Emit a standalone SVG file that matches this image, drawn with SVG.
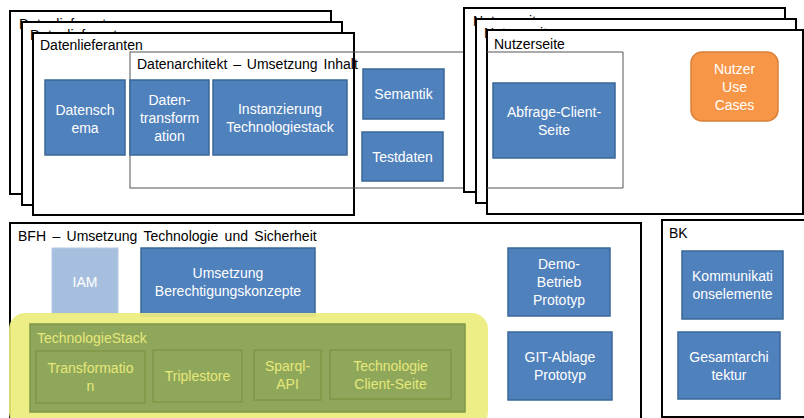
<svg xmlns="http://www.w3.org/2000/svg" width="804" height="418" viewBox="0 0 804 418">
<style>
text{font-family:"Liberation Sans",Arial,sans-serif;font-size:14px}
.frame{fill:#fff;stroke:#000;stroke-width:2}
.lbl{fill:#000}
.box{fill:#4f81bd;stroke:#3a6796;stroke-width:1.5}
.bt{fill:#fff;text-anchor:middle}
.thin{fill:none;stroke:#555;stroke-width:1}
.gbox{fill:#8fa75b;stroke:#7e9845;stroke-width:1.5}
.gt{fill:#e6e87a;text-anchor:middle}
</style>
<rect width="804" height="418" fill="#fff"/>

<g id="datenlieferanten">
<rect class="frame" x="10" y="11" width="321" height="183"/>
<text class="lbl" x="19" y="29">Datenlieferanten</text>
<rect class="frame" x="22" y="22" width="320" height="183"/>
<text class="lbl" x="30" y="40">Datenlieferanten</text>
<rect class="frame" x="33" y="33" width="321" height="182"/>
<text class="lbl" x="40" y="50">Datenlieferanten</text>
</g>

<g id="datenarchitekt">
<rect class="thin" x="130" y="52" width="493" height="136"/>
<text class="lbl" x="137" y="69" word-spacing="2">Datenarchitekt – Umsetzung Inhalt</text>
</g>

<g id="datenschema">
<rect class="box" x="45" y="80" width="80" height="75"/>
<text class="bt" x="85" y="115">Datensch</text>
<text class="bt" x="85" y="133">ema</text>
</g>
<g id="datentransformation">
<rect class="box" x="130" y="80" width="79" height="75"/>
<text class="bt" x="169.5" y="105">Daten-</text>
<text class="bt" x="169.5" y="123">transform</text>
<text class="bt" x="169.5" y="141">ation</text>
</g>
<g id="instanzierung">
<rect class="box" x="213" y="80" width="134" height="75"/>
<text class="bt" x="280" y="114">Instanzierung</text>
<text class="bt" x="280" y="132">Technologiestack</text>
</g>
<g id="semantik">
<rect class="box" x="363" y="69" width="81" height="50"/>
<text class="bt" x="403.5" y="99">Semantik</text>
</g>
<g id="testdaten">
<rect class="box" x="362" y="132" width="81" height="49"/>
<text class="bt" x="402.5" y="162">Testdaten</text>
</g>

<g id="nutzerseite">
<rect class="frame" x="464" y="8" width="321" height="184"/>
<text class="lbl" x="473" y="26">Nutzerseite</text>
<rect class="frame" x="476" y="19" width="320" height="184"/>
<text class="lbl" x="484" y="38">Nutzerseite</text>
<rect class="frame" x="487" y="30" width="316" height="184"/>
<text class="lbl" x="494" y="49">Nutzerseite</text>
<path class="thin" d="M487 52H623V188H487"/>
</g>

<g id="abfrage">
<rect class="box" x="493" y="83" width="122" height="75"/>
<text class="bt" x="554" y="117">Abfrage-Client-</text>
<text class="bt" x="554" y="135">Seite</text>
</g>
<g id="usecases">
<rect x="691" y="52" width="87" height="69" rx="11" fill="#f79646" stroke="#d9803a" stroke-width="1.5"/>
<text class="bt" x="734.5" y="74">Nutzer</text>
<text class="bt" x="734.5" y="92">Use</text>
<text class="bt" x="734.5" y="110">Cases</text>
</g>

<g id="bfh">
<rect class="frame" x="10" y="223" width="631" height="200"/>
<text class="lbl" x="18" y="241" word-spacing="2.5">BFH – Umsetzung Technologie und Sicherheit</text>
</g>
<g id="iam">
<rect x="52" y="248" width="66" height="66" fill="#a7bfde" stroke="#b6c9e3" stroke-width="1"/>
<text class="bt" x="85" y="287">IAM</text>
</g>
<g id="berechtigung">
<rect class="box" x="141" y="248" width="174" height="68"/>
<text class="bt" x="228" y="278">Umsetzung</text>
<text class="bt" x="228" y="296">Berechtigungskonzepte</text>
</g>

<g id="technologiestack">
<rect x="9" y="313" width="479" height="115" rx="16" fill="#eded7d" opacity="0.92"/>
<rect x="30" y="324" width="435" height="88" fill="#8fa75b" stroke="#7e9845" stroke-width="1.5"/>
<text x="37" y="343" fill="#e6e87a">TechnologieStack</text>
</g>
<g id="transformation">
<rect class="gbox" x="36" y="351" width="109" height="52"/>
<text class="gt" x="90.5" y="373">Transformatio</text>
<text class="gt" x="90.5" y="391">n</text>
</g>
<g id="triplestore">
<rect class="gbox" x="153" y="350" width="89" height="52"/>
<text class="gt" x="197.5" y="381">Triplestore</text>
</g>
<g id="sparql">
<rect class="gbox" x="254" y="350" width="67" height="50"/>
<text class="gt" x="287.5" y="371">Sparql-</text>
<text class="gt" x="287.5" y="389">API</text>
</g>
<g id="clientseite">
<rect class="gbox" x="330" y="350" width="121" height="49"/>
<text class="gt" x="390.5" y="371">Technologie</text>
<text class="gt" x="390.5" y="389">Client-Seite</text>
</g>

<g id="demo">
<rect class="box" x="508" y="248" width="102" height="68"/>
<text class="bt" x="559" y="269">Demo-</text>
<text class="bt" x="559" y="287">Betrieb</text>
<text class="bt" x="559" y="305">Prototyp</text>
</g>
<g id="git">
<rect class="box" x="508" y="332" width="104" height="68"/>
<text class="bt" x="560" y="362">GIT-Ablage</text>
<text class="bt" x="560" y="380">Prototyp</text>
</g>

<g id="bk">
<rect class="frame" x="662" y="220" width="160" height="197"/>
<text class="lbl" x="669" y="238">BK</text>
</g>
<g id="kommunikation">
<rect class="box" x="682" y="251" width="101" height="68"/>
<text class="bt" x="732.5" y="281">Kommunikati</text>
<text class="bt" x="732.5" y="299">onselemente</text>
</g>
<g id="gesamtarchitektur">
<rect class="box" x="678" y="332" width="102" height="67"/>
<text class="bt" x="729" y="362">Gesamtarchi</text>
<text class="bt" x="729" y="380">tektur</text>
</g>

<g id="connectors"></g>
</svg>
